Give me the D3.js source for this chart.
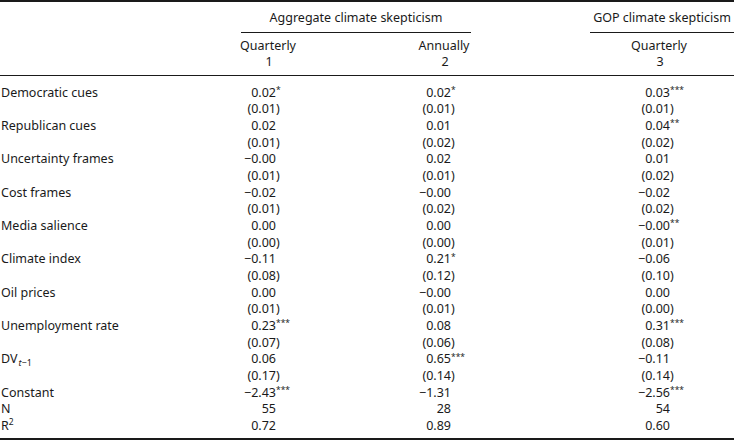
<!DOCTYPE html>
<meta charset="utf-8">
<style>
body { margin: 0; background: #fff; }
svg { display: block; }
text {
  font-family: "Noto Sans", "Open Sans", sans-serif;
  font-size: 12.5px;
  fill: #1a1a1a;
}
.rule { stroke: #1a1a1a; }
</style>
<svg width="734" height="440"></svg>
<script src="https://d3js.org/d3.v7.min.js"></script>
<script>

// row labels
var variables = ["Democratic cues", "Republican cues", "Uncertainty frames", "Cost frames",
  "Media salience", "Climate index", "Oil prices", "Unemployment rate", "DV", "Constant"];

// column headers
var groups = ["Aggregate climate skepticism", "GOP climate skepticism"];
var periods = ["Quarterly", "Annually", "Quarterly"];
var modelNums = ["1", "2", "3"];

// model 1 : aggregate, quarterly
var coef1 = ["0.02*", "0.02", "\u22120.00", "\u22120.02", "0.00", "\u22120.11", "0.00", "0.23***", "0.06", "\u22122.43***"];
var se1 = ["(0.01)", "(0.01)", "(0.01)", "(0.01)", "(0.00)", "(0.08)", "(0.01)", "(0.07)", "(0.17)"];
// model 2 : aggregate, annually
var coef2 = ["0.02*", "0.01", "0.02", "\u22120.00", "0.00", "0.21*", "\u22120.00", "0.08", "0.65***", "\u22121.31"];
var se2 = ["(0.01)", "(0.02)", "(0.01)", "(0.02)", "(0.00)", "(0.12)", "(0.01)", "(0.06)", "(0.14)"];
// model 3 : GOP, quarterly
var coef3 = ["0.03***", "0.04**", "0.01", "\u22120.02", "\u22120.00**", "\u22120.06", "0.00", "0.31***", "\u22120.11", "\u22122.56***"];
var se3 = ["(0.01)", "(0.02)", "(0.02)", "(0.02)", "(0.01)", "(0.10)", "(0.00)", "(0.08)", "(0.14)"];

var nObs = ["55", "28", "54"];
var rSquared = ["0.72", "0.89", "0.60"];

var svg = d3.select("svg");

// digit right edge of each model column
var x = d3.scaleOrdinal().domain([0, 1, 2]).range([276, 451, 670]);
var xHead = d3.scaleOrdinal().domain([0, 1, 2]).range([268, 444, 659]);
// 21 text lines below the header rule
var y = d3.scaleLinear().domain([0, 20]).range([96.5, 430]);

// build the body lines
var lines = [];
variables.forEach(function(v, i) {
  lines.push({ label: v, cells: [coef1[i], coef2[i], coef3[i]] });
  if (i < se1.length) lines.push({ label: "", cells: [se1[i], se2[i], se3[i]] });
});
lines.push({ label: "N", cells: nObs });
lines.push({ label: "R", cells: rSquared, sup: "2" });

// rules
svg.append("line").attr("class", "rule").attr("x1", 0).attr("x2", 734)
  .attr("y1", 1).attr("y2", 1).attr("stroke-width", 2);
svg.append("line").attr("class", "rule").attr("x1", 241).attr("x2", 471)
  .attr("y1", 32.5).attr("y2", 32.5).attr("stroke-width", 1);
svg.append("line").attr("class", "rule").attr("x1", 590).attr("x2", 734)
  .attr("y1", 32.5).attr("y2", 32.5).attr("stroke-width", 1);
svg.append("line").attr("class", "rule").attr("x1", 0).attr("x2", 734)
  .attr("y1", 75.5).attr("y2", 75.5).attr("stroke-width", 1);
svg.append("line").attr("class", "rule").attr("x1", 0).attr("x2", 734)
  .attr("y1", 439).attr("y2", 439).attr("stroke-width", 2);

// group headers
svg.append("text").attr("x", 356).attr("y", 22).attr("text-anchor", "middle").text(groups[0]);
svg.append("text").attr("x", 662).attr("y", 22).attr("text-anchor", "middle").text(groups[1]);

svg.selectAll(".period").data(periods).enter().append("text")
  .attr("class", "period")
  .attr("x", function(d, i) { return xHead(i); })
  .attr("y", 50)
  .attr("text-anchor", "middle")
  .text(function(d) { return d; });

svg.selectAll(".modelnum").data(modelNums).enter().append("text")
  .attr("class", "modelnum")
  .attr("x", function(d, i) { return xHead(i) + 1; })
  .attr("y", 66)
  .attr("text-anchor", "middle")
  .text(function(d) { return d; });

// row labels
var labels = svg.selectAll(".label").data(lines).enter().append("text")
  .attr("class", "label")
  .attr("x", 1)
  .attr("y", function(d, i) { return y(i); })
  .text(function(d) { return d.label; });

labels.filter(function(d) { return d.label == "DV"; })
  .append("tspan").attr("font-size", "9px").attr("font-style", "italic").attr("dy", 3).attr("dx", 1).text("t");
labels.filter(function(d) { return d.label == "DV"; })
  .append("tspan").attr("font-size", "9px").text("\u22121");
labels.filter(function(d) { return d.sup; })
  .append("tspan").attr("font-size", "8.5px").attr("dy", -5).text(function(d) { return d.sup; });

// cells: number part right aligned on the digits, ")" and stars hang to the right
var cells = [];
lines.forEach(function(l, i) {
  l.cells.forEach(function(c, j) {
    if (c === undefined) return;
    var m = c.match(/^([^)*]*)(\)?)(\**)$/);
    cells.push({ row: i, col: j, core: m[1], paren: m[2], stars: m[3] });
  });
});

var cellText = svg.selectAll(".cell").data(cells).enter().append("text")
  .attr("class", "cell")
  .attr("y", function(d) { return y(d.row); });

cellText.append("tspan").attr("class", "core").text(function(d) { return d.core + d.paren; });
cellText.filter(function(d) { return d.stars; })
  .append("tspan")
  .attr("font-size", "8.5px")
  .attr("dy", -3.5)
  .text(function(d) { return d.stars; });

// shift each cell so the last digit sits on the column edge
cellText.attr("x", function(d) {
  var w = this.querySelector(".core").getSubStringLength(0, d.core.length);
  return x(d.col) - w;
});

</script>
